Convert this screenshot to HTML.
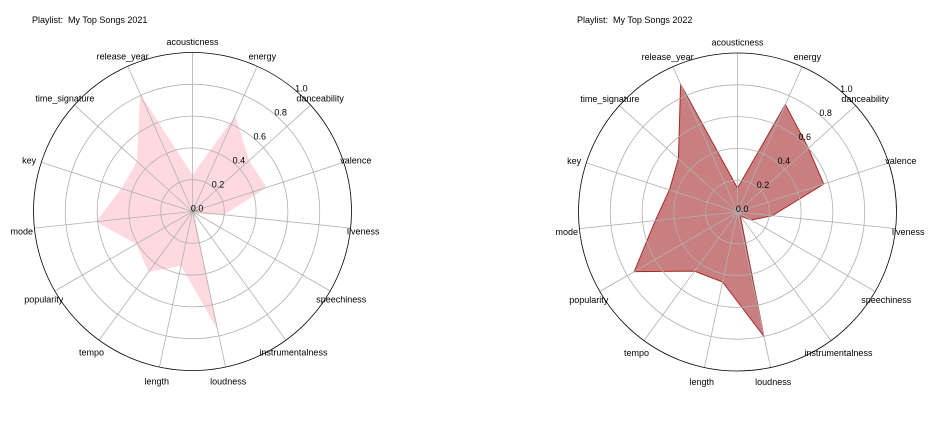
<!DOCTYPE html>
<html><head><meta charset="utf-8"><style>
html,body{margin:0;padding:0;background:#fff;}
svg{display:block;font-family:"Liberation Sans","DejaVu Sans",sans-serif;}
</style></head><body>
<svg id="chart" width="937" height="421" viewBox="0 0 937 421">
<text x="32" y="23" font-size="9" fill="#000">Playlist:&#160; My Top Songs 2021</text>
<text x="577" y="23" font-size="9" fill="#000">Playlist:&#160; My Top Songs 2022</text>
</svg>
<script>
const categories = ["acousticness","energy","danceability","valence","liveness","speechiness","instrumentalness","loudness","length","tempo","popularity","mode","key","time_signature","release_year"];
const values2021 = [0.23,0.66,0.48,0.49,0.2,0.03,0.02,0.76,0.35,0.47,0.41,0.61,0.47,0.47,0.81];
const values2022 = [0.15,0.74,0.6,0.57,0.22,0.1,0.03,0.8,0.45,0.46,0.75,0.52,0.45,0.5,0.88];
const rTicks = [0.0,0.2,0.4,0.6,0.8,1.0];
const tickLabels = ["0.0","0.2","0.4","0.6","0.8","1.0"];

const NS = "http://www.w3.org/2000/svg";
const svg = document.getElementById('chart');
const R = 159;
function angleOf(i){ return (90 - i*360/categories.length) * Math.PI/180; }
function pt(cx, cy, i, v){ const a = angleOf(i); return [cx + Math.cos(a)*v*R, cy - Math.sin(a)*v*R]; }
function mk(tag, attrs){ const e = document.createElementNS(NS, tag); for (const k in attrs) e.setAttribute(k, attrs[k]); svg.appendChild(e); return e; }

function drawRadar(cx, cy, vals, fill, stroke, key){
  const poly = mk('polygon', {points: vals.map((v,i)=>pt(cx,cy,i,v).join(',')).join(' '), fill: fill, 'fill-opacity': 0.6, stroke: stroke, 'stroke-width': stroke==='none'?0:1});
  
  
  rTicks.forEach((t, j) => {
    if (t <= 0 || t >= 1) return;
    const c = mk('circle', {cx: cx, cy: cy, r: t*R, fill: 'none', stroke: '#b0b0b0', 'stroke-width': 0.8});
    
    
  });
  categories.forEach((c, i) => {
    const p = pt(cx, cy, i, 1);
    const l = mk('line', {x1: cx, y1: cy, x2: p[0], y2: p[1], stroke: '#b0b0b0', 'stroke-width': 0.8});
    
    
    const q = pt(cx, cy, i, 1.08);
    const t = mk('text', {x: q[0], y: q[1] + 5, 'font-size': 9, 'text-anchor': 'middle', fill: '#000'});
    t.textContent = c;
    
    
  });
  const o = mk('circle', {cx: cx, cy: cy, r: R, fill: 'none', stroke: '#000', 'stroke-width': 0.8});
  
  
  const ra = 49 * Math.PI/180;
  rTicks.forEach((t, j) => {
    const rr = t*R + 4;
    const tx = mk('text', {x: cx + Math.cos(ra)*rr + 2, y: cy - Math.sin(ra)*rr + 3, 'font-size': 9, 'text-anchor': 'middle', fill: '#000'});
    tx.textContent = tickLabels[j];
    
    
  });
}
drawRadar(192.5, 211.5, values2021, '#ffc0cb', 'none', '2021');
drawRadar(737.5, 212, values2022, '#a52a2a', '#a52a2a', '2022');
</script>
</body></html>
